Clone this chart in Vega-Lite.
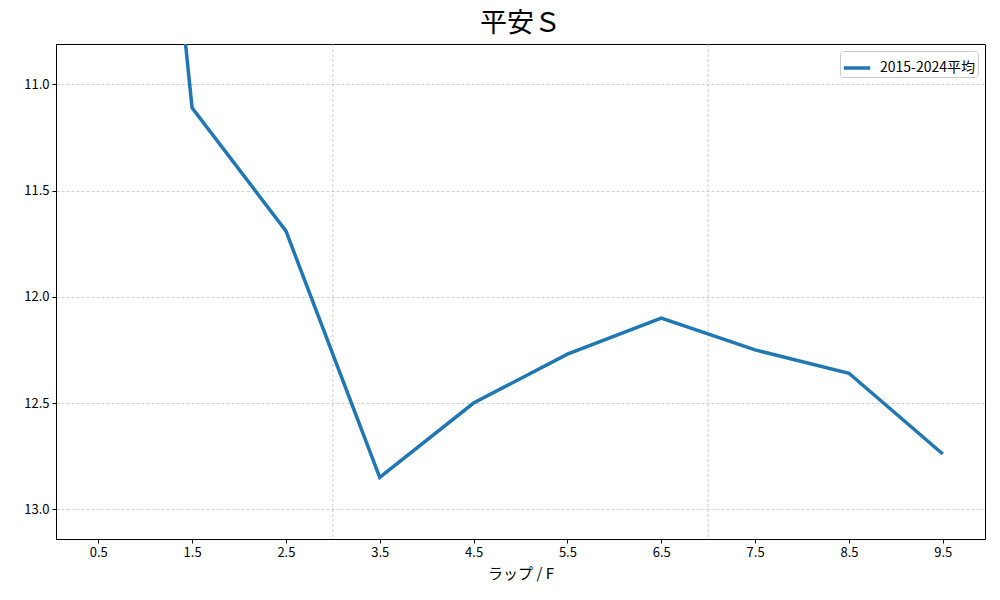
{
  "$schema": "https://vega.github.io/schema/vega-lite/v6.json",
  "width": 929,
  "height": 495,
  "autosize": "none",
  "padding": {"left": 56, "top": 44, "right": 15, "bottom": 61},
  "background": "white",
  "title": {"text": "平安Ｓ", "fontSize": 27, "font": "Noto Sans CJK JP", "fontWeight": "normal", "color": "black", "offset": 6, "anchor": "middle"},
  "config": {
    "view": {"stroke": "black", "strokeWidth": 1},
    "font": "Noto Sans CJK JP",
    "axis": {
      "labelFont": "Noto Sans CJK JP", "labelFontSize": 13, "labelColor": "black",
      "titleFont": "Noto Sans CJK JP", "titleFontSize": 15, "titleFontWeight": "normal", "titleColor": "black",
      "domainColor": "black", "tickColor": "black", "tickSize": 4, "labelPadding": 3,
      "gridColor": "#b0b0b0", "gridDash": [3, 2], "gridWidth": 0.6, "gridOpacity": 1
    }
  },
  "datasets": {
    "laps": [
      {"lap": 0.5, "time": 6.8, "series": "2015-2024平均"},
      {"lap": 1.5, "time": 11.11, "series": "2015-2024平均"},
      {"lap": 2.5, "time": 11.69, "series": "2015-2024平均"},
      {"lap": 3.5, "time": 12.85, "series": "2015-2024平均"},
      {"lap": 4.5, "time": 12.5, "series": "2015-2024平均"},
      {"lap": 5.5, "time": 12.27, "series": "2015-2024平均"},
      {"lap": 6.5, "time": 12.1, "series": "2015-2024平均"},
      {"lap": 7.5, "time": 12.25, "series": "2015-2024平均"},
      {"lap": 8.5, "time": 12.36, "series": "2015-2024平均"},
      {"lap": 9.5, "time": 12.74, "series": "2015-2024平均"}
    ],
    "vgrid": [{"pos": 3}, {"pos": 7}]
  },
  "layer": [
    {
      "data": {"name": "vgrid"},
      "mark": {"type": "rule", "color": "#b0b0b0", "strokeDash": [3, 2], "strokeWidth": 0.6},
      "encoding": {
        "x": {"field": "pos", "type": "quantitative", "scale": {"domain": [0.05, 9.95], "nice": false, "zero": false}}
      }
    },
    {
      "data": {"name": "laps"},
      "mark": {"type": "line", "strokeWidth": 3.5, "clip": true},
      "encoding": {
        "x": {"field": "lap", "type": "quantitative",
              "scale": {"domain": [0.05, 9.95], "nice": false, "zero": false},
              "axis": {"values": [0.5, 1.5, 2.5, 3.5, 4.5, 5.5, 6.5, 7.5, 8.5, 9.5], "format": ".1f", "grid": false, "title": "ラップ / F", "titlePadding": 7}},
        "y": {"field": "time", "type": "quantitative",
              "scale": {"domain": [10.81, 13.14], "nice": false, "zero": false, "reverse": true},
              "axis": {"values": [11.0, 11.5, 12.0, 12.5, 13.0], "format": ".1f", "grid": true, "title": null}},
        "color": {"field": "series", "type": "nominal",
                  "scale": {"range": ["#1f77b4"]},
                  "legend": {"title": null, "orient": "top-right", "offset": 7, "symbolType": "stroke", "symbolStrokeWidth": 3.5, "symbolSize": 700,
                             "labelFontSize": 14, "labelFont": "Noto Sans CJK JP", "labelColor": "black", "labelOffset": 8,
                             "strokeColor": "#cccccc", "fillColor": "white", "padding": 2, "cornerRadius": 3}}
      }
    }
  ]
}
